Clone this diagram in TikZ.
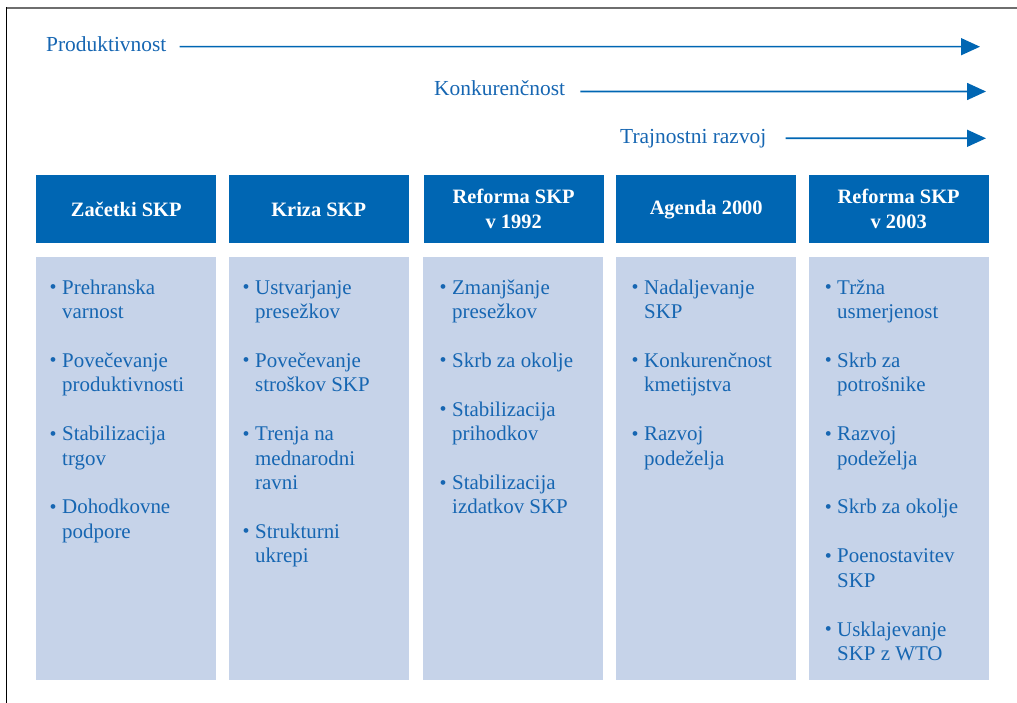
\documentclass[tikz,border=0pt]{standalone}
\usepackage{graphicx}
\usepackage{fontspec}
\setmainfont{Liberation Serif}
\usetikzlibrary{arrows.meta}

\definecolor{skpblue}{RGB}{0,102,179}
\definecolor{skplight}{RGB}{198,211,233}
\definecolor{skptext}{RGB}{22,102,178}
\definecolor{framegray}{RGB}{110,110,110}

% bullet hanging left of the item text
\newcommand{\itm}{\leavevmode\llap{\raisebox{0.5bp}{\scalebox{0.95}{\textbullet}}\hspace{5.5bp}}}
\newcommand{\gap}{\\[24.5bp]}

\tikzset{
  hdr/.style={fill=skpblue, text=white, anchor=north west, inner sep=0,
    minimum width=180bp, minimum height=68bp, align=center,
    font=\fontsize{20.5}{25}\selectfont\bfseries},
  colbody/.style={fill=skplight, anchor=north west, inner sep=0,
    minimum width=180bp, minimum height=423bp},
  items/.style={anchor=base west, inner sep=0, text=skptext,
    font=\fontsize{21}{24.5}\selectfont},
  lbl/.style={anchor=base west, inner sep=0, text=skptext,
    font=\fontsize{21.5}{24}\selectfont},
  flow/.style={draw=skpblue, line width=1.6bp, -{Triangle[length=19bp,width=17bp]}},
}

\begin{document}
\begin{tikzpicture}[x=1bp,y=-1bp]
\useasboundingbox (0,0) rectangle (1017,703);

%Frame
\draw [framegray, line width=1.6bp] (6,8.3) -- (1017,8.3);
\draw [black, line width=1.3bp] (6.5,7.5) -- (6.5,703);

%Labels and arrows
\node [lbl] (prod) at (46,51.7) {Produktivnost};
\node [lbl] (konk) at (434,96) {Konkurenčnost};
\node [lbl] (traj) at (620,143.3) {Trajnostni razvoj};
\coordinate (prodend) at (980,46.7);
\coordinate (konkend) at (986,91.5);
\coordinate (trajend) at (986,138.3);
\draw [flow] ([xshift=13bp,yshift=5bp]prod.base east) -- (prodend);
\draw [flow] ([xshift=15bp,yshift=4.5bp]konk.base east) -- (konkend);
\draw [flow] ([xshift=19bp,yshift=5bp]traj.base east) -- (trajend);

%Headers
\node [hdr] (h1) at (36,175) {Začetki SKP};
\node [hdr] (h2) at (228.5,175) {Kriza SKP};
\node [hdr] (h3) at (423.5,175) {Reforma SKP\\v 1992};
\node [hdr] (h4) at (616,175) {Agenda 2000};
\node [hdr] (h5) at (808.5,175) {Reforma SKP\\v 2003};

%Column bodies
\node [colbody] (b1) at (36,257) {};
\node [colbody] (b2) at (228.5,257) {};
\node [colbody] (b3) at (423,257) {};
\node [colbody] (b4) at (616,257) {};
\node [colbody] (b5) at (808.5,257) {};

%Items
\node [items] (t1) at (62,294) {\parbox[t]{150bp}{\raggedright
  \itm Prehranska\\varnost\gap
  \itm Povečevanje\\produktivnosti\gap
  \itm Stabilizacija\\trgov\gap
  \itm Dohodkovne\\podpore}};
\node [items] (t2) at (255,294) {\parbox[t]{150bp}{\raggedright
  \itm Ustvarjanje\\presežkov\gap
  \itm Povečevanje\\stroškov SKP\gap
  \itm Trenja na\\mednarodni\\ravni\gap
  \itm Strukturni\\ukrepi}};
\node [items] (t3) at (452,294) {\parbox[t]{150bp}{\raggedright
  \itm Zmanjšanje\\presežkov\gap
  \itm Skrb za okolje\gap
  \itm Stabilizacija\\prihodkov\gap
  \itm Stabilizacija\\izdatkov SKP}};
\node [items] (t4) at (644,294) {\parbox[t]{150bp}{\raggedright
  \itm Nadaljevanje\\SKP\gap
  \itm Konkurenčnost\\kmetijstva\gap
  \itm Razvoj\\podeželja}};
\node [items] (t5) at (837,294) {\parbox[t]{150bp}{\raggedright
  \itm Tržna\\usmerjenost\gap
  \itm Skrb za\\potrošnike\gap
  \itm Razvoj\\podeželja\gap
  \itm Skrb za okolje\gap
  \itm Poenostavitev\\SKP\gap
  \itm Usklajevanje\\SKP z WTO}};

\end{tikzpicture}
\end{document}
